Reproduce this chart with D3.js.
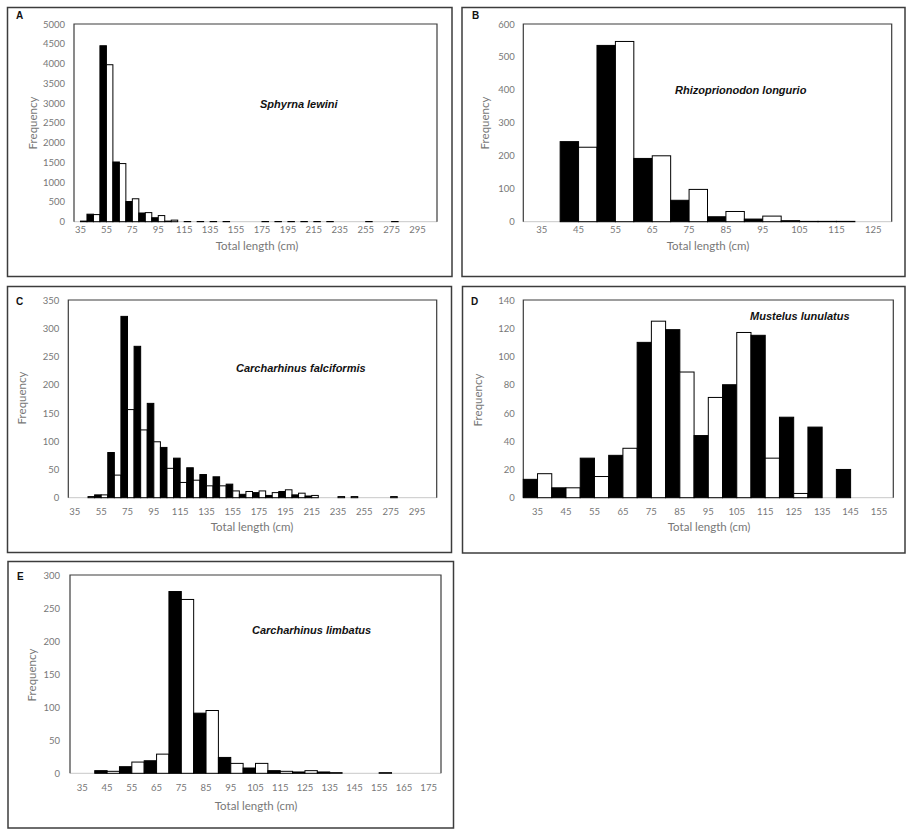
<!DOCTYPE html>
<html>
<head>
<meta charset="utf-8">
<script src="https://cdn.jsdelivr.net/npm/d3@7/dist/d3.min.js"></script>
<style>
  body { margin: 0; background: #fff; }
  .tick text { font-family: Lato, "Open Sans", sans-serif; font-size: 9.5px; fill: #777; }
  .axis-title { font-family: Lato, "Open Sans", sans-serif; font-size: 11.5px; fill: #777; }
  .species { font-family: "Liberation Sans", Arial, sans-serif; font-size: 11px; font-weight: bold; font-style: italic; fill: #111; }
  .letter { font-family: "Liberation Sans", Arial, sans-serif; font-size: 10px; font-weight: bold; fill: #111; }
</style>
</head>
<body>
<div id="chart"></div>
<script>
// size classes (total length, cm) and frequencies, black = first series, white = second

// A: Sphyrna lewini
const lengthsA = [35, 45, 55, 65, 75, 85, 95, 105, 115, 125, 135, 145, 155, 165, 175, 185, 195, 205, 215, 225, 235, 245, 255, 265, 275, 285, 295, 305];
const blackA = [0, 190, 4450, 1510, 510, 220, 100, 15, 0, 0, 0, 0, 0, 0, 0, 0, 0, 0, 0, 0, 0, 0, 0, 0, 0, 0, 0, 0];
const whiteA = [15, 180, 3970, 1470, 580, 230, 155, 40, 5, 5, 5, 5, 0, 0, 5, 5, 5, 5, 5, 5, 0, 0, 5, 0, 5, 0, 0, 0];
const yTicksA = [0, 500, 1000, 1500, 2000, 2500, 3000, 3500, 4000, 4500, 5000];

// B: Rhizoprionodon longurio
const lengthsB = [35, 45, 55, 65, 75, 85, 95, 105, 115, 125];
const blackB = [0, 243, 535, 192, 65, 15, 8, 3, 1, 0];
const whiteB = [0, 226, 547, 200, 98, 31, 17, 1, 1, 0];
const yTicksB = [0, 100, 200, 300, 400, 500, 600];

// C: Carcharhinus falciformis
const lengthsC = [35, 45, 55, 65, 75, 85, 95, 105, 115, 125, 135, 145, 155, 165, 175, 185, 195, 205, 215, 225, 235, 245, 255, 265, 275, 285, 295, 305];
const blackC = [0, 0, 5, 80, 321, 268, 167, 89, 70, 53, 41, 37, 24, 6, 9, 4, 11, 5, 3, 0, 0, 0, 0, 0, 0, 0, 0, 0];
const whiteC = [0, 2, 5, 40, 156, 120, 99, 52, 27, 31, 21, 21, 12, 11, 12, 9, 14, 8, 4, 0, 2, 2, 0, 0, 2, 0, 0, 0];
const yTicksC = [0, 50, 100, 150, 200, 250, 300, 350];

// D: Mustelus lunulatus
const lengthsD = [35, 45, 55, 65, 75, 85, 95, 105, 115, 125, 135, 145, 155];
const blackD = [13, 7, 28, 30, 110, 119, 44, 80, 115, 57, 50, 20, 0];
const whiteD = [17, 7, 15, 35, 125, 89, 71, 117, 28, 3, 0, 0, 0];
const yTicksD = [0, 20, 40, 60, 80, 100, 120, 140];

// E: Carcharhinus limbatus
const lengthsE = [35, 45, 55, 65, 75, 85, 95, 105, 115, 125, 135, 145, 155, 165, 175];
const blackE = [0, 4, 10, 19, 275, 91, 24, 8, 4, 2, 2, 0, 0, 0, 0];
const whiteE = [0, 3, 17, 29, 263, 95, 15, 15, 3, 4, 1, 0, 1, 0, 0];
const yTicksE = [0, 50, 100, 150, 200, 250, 300];

class Panel {

  constructor(opts) {
    this.svg = opts.svg;
    this.lengths = opts.lengths;
    this.black = opts.black;
    this.white = opts.white;
    this.yTicks = opts.yTicks;
    this.letter = opts.letter;
    this.species = opts.species;
    this.box = opts.box;       // outer frame [x0, y0, x1, y1]
    this.plot = opts.plot;     // plot area [left, top, right, bottom]
    this.layout = opts.layout; // text positions
    this.draw();
  }

  draw() {
    const [bx0, by0, bx1, by1] = this.box;
    this.g = this.svg.append('g');

    this.g.append('rect')
      .attr('x', bx0).attr('y', by0)
      .attr('width', bx1 - bx0).attr('height', by1 - by0)
      .attr('fill', 'none')
      .attr('stroke', '#3c3c3c')
      .attr('stroke-width', 1.5);

    this.createScales();
    this.addFrame();
    this.addBars();
    this.addAxes();
    this.addLabels();
  }

  createScales() {
    const [l, t, r, b] = this.plot;
    this.x = d3.scaleBand()
      .domain(this.lengths)
      .range([l, r])
      .padding(0);
    this.y = d3.scaleLinear()
      .domain([0, d3.max(this.yTicks)])
      .range([b, t]);
  }

  addFrame() {
    const [l, t, r, b] = this.plot;
    // axis line first, bars sit on top of it
    this.g.append('line')
      .attr('x1', l).attr('x2', r)
      .attr('y1', b).attr('y2', b)
      .attr('stroke', '#c8c8c8')
      .attr('stroke-width', 1);
    this.g.append('path')
      .attr('d', `M${l},${b}V${t}H${r}V${b}`)
      .attr('fill', 'none')
      .attr('stroke', '#3c3c3c')
      .attr('stroke-width', 1.2);
  }

  addBars() {
    const half = this.x.bandwidth() / 2;
    const rows = [];
    this.lengths.forEach((c, i) => {
      rows.push({ c: c, v: this.black[i], off: 0, fill: '#000' });
      rows.push({ c: c, v: this.white[i], off: half, fill: '#fff' });
    });

    this.g.selectAll('.bar')
      .data(rows.filter(d => d.v > 0))
      .enter().append('rect')
        .attr('class', 'bar')
        .attr('x', d => this.x(d.c) + d.off)
        .attr('y', d => this.y(d.v))
        .attr('width', half)
        .attr('height', d => this.y(0) - this.y(d.v))
        .attr('fill', d => d.fill)
        .attr('stroke', '#000')
        .attr('stroke-width', 1);
  }

  addAxes() {
    const [l, t, r, b] = this.plot;
    const lay = this.layout;

    // every other class label when there are many classes
    const step = this.lengths.length > 20 ? 2 : 1;
    const xAxis = d3.axisBottom(this.x)
      .tickValues(this.lengths.filter((d, i) => i % step === 0))
      .tickSize(0)
      .tickPadding(lay.xPad);

    const yAxis = d3.axisLeft(this.y)
      .tickValues(this.yTicks)
      .tickFormat(d3.format('d'))
      .tickSize(0)
      .tickPadding(lay.yPad);

    const gx = this.g.append('g')
      .attr('transform', `translate(0,${b})`)
      .call(xAxis);
    gx.select('.domain').remove();

    const gy = this.g.append('g')
      .attr('transform', `translate(${l},0)`)
      .call(yAxis);
    gy.select('.domain').remove();
  }

  addLabels() {
    const lay = this.layout;

    this.g.append('text')
      .attr('class', 'letter')
      .attr('x', lay.letter[0])
      .attr('y', lay.letter[1])
      .text(this.letter);

    this.g.append('text')
      .attr('class', 'species')
      .attr('x', lay.species[0])
      .attr('y', lay.species[1])
      .text(this.species);

    this.g.append('text')
      .attr('class', 'axis-title')
      .attr('text-anchor', 'middle')
      .attr('x', lay.xTitle[0])
      .attr('y', lay.xTitle[1])
      .text('Total length (cm)');

    this.g.append('text')
      .attr('class', 'axis-title')
      .attr('text-anchor', 'middle')
      .attr('transform', `translate(${lay.yTitle[0]},${lay.yTitle[1]}) rotate(-90)`)
      .text('Frequency');
  }
}

const svg = d3.select('#chart').append('svg')
  .attr('width', 908)
  .attr('height', 836);

new Panel({
  svg, letter: 'A', species: 'Sphyrna lewini',
  lengths: lengthsA, black: blackA, white: whiteA, yTicks: yTicksA,
  box: [7.5, 7.5, 452, 276.5],
  plot: [74, 24, 437, 221.7],
  layout: { xPad: 4.5, yPad: 9, letter: [16, 19], species: [260, 108], xTitle: [257, 250], yTitle: [36.5, 123] }
});

new Panel({
  svg, letter: 'B', species: 'Rhizoprionodon longurio',
  lengths: lengthsB, black: blackB, white: whiteB, yTicks: yTicksB,
  box: [462, 7.5, 905, 276.5],
  plot: [523.3, 24, 891.7, 221.7],
  layout: { xPad: 4.5, yPad: 8.5, letter: [472, 19], species: [675, 94], xTitle: [708, 250], yTitle: [489, 123] }
});

new Panel({
  svg, letter: 'C', species: 'Carcharhinus falciformis',
  lengths: lengthsC, black: blackC, white: whiteC, yTicks: yTicksC,
  box: [7.5, 286.5, 451.5, 552.5],
  plot: [68.3, 300, 436.7, 497.7],
  layout: { xPad: 11, yPad: 9, letter: [16, 305], species: [236, 372], xTitle: [252, 531], yTitle: [25.5, 398] }
});

new Panel({
  svg, letter: 'D', species: 'Mustelus lunulatus',
  lengths: lengthsD, black: blackD, white: whiteD, yTicks: yTicksD,
  box: [462.5, 286.5, 905, 553],
  plot: [523.3, 300, 893.3, 497.7],
  layout: { xPad: 11, yPad: 8.5, letter: [471, 305], species: [750, 320], xTitle: [709, 531], yTitle: [481.5, 400] }
});

new Panel({
  svg, letter: 'E', species: 'Carcharhinus limbatus',
  lengths: lengthsE, black: blackE, white: whiteE, yTicks: yTicksE,
  box: [8, 561.5, 453.5, 828],
  plot: [70, 575, 441, 773.3],
  layout: { xPad: 10.5, yPad: 10, letter: [17, 580], species: [252, 634], xTitle: [256, 809.5], yTitle: [35.5, 675] }
});
</script>
</body>
</html>
